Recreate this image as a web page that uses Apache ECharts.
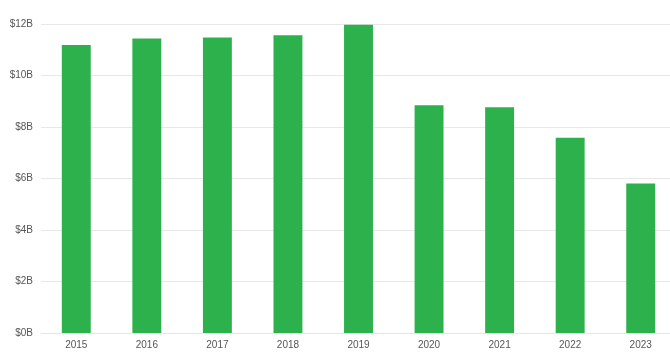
<!DOCTYPE html>
<html><head><meta charset="utf-8">
<script src="https://cdn.jsdelivr.net/npm/echarts@6/dist/echarts.min.js"></script>
<style>html,body{margin:0;padding:0;background:#fff;overflow:hidden}#c{width:676px;height:362px}</style>
</head><body><div id="c"></div>
<script>
const categories = ['2015','2016','2017','2018','2019','2020','2021','2022','2023'];
const values = [11.18, 11.44, 11.48, 11.56, 11.97, 8.84, 8.77, 7.58, 5.81];
const chart = echarts.init(document.getElementById('c'), null, {renderer:'canvas'});
chart.setOption({
  animation:false,
  grid:{left:41, right:0, top:24, bottom:29, containLabel:false},
  xAxis:{type:'category', data:categories,
    axisLine:{show:true, lineStyle:{color:'#e6e6e6'}}, axisTick:{show:false},
    axisLabel:{color:'#555', fontSize:10, fontFamily:'Arial, Liberation Sans', margin:7}},
  yAxis:{type:'value', min:0, max:12, interval:2,
    axisLine:{show:false}, axisTick:{show:false},
    splitLine:{lineStyle:{color:'#e8e8e8'}},
    axisLabel:{color:'#555', fontSize:10, fontFamily:'Arial, Liberation Sans', margin:8, formatter:v=>'$'+v+'B'}},
  series:[{type:'bar', data:values, barWidth:'41%', itemStyle:{color:'#2db14c'}}]
});
</script></body></html>
